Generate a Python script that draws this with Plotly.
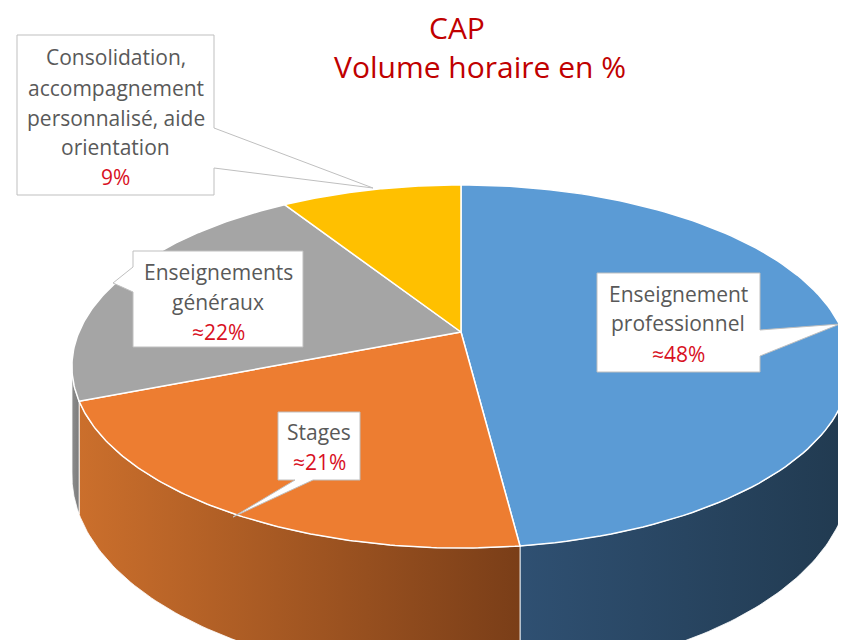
import numpy as np
import plotly.graph_objects as go

# ---- data ----
categories = ["Enseignement professionnel", "Stages", "Enseignements généraux",
              "Consolidation, accompagnement personnalisé, aide orientation"]
values = [48, 21, 22, 9]
value_labels = ["≈48%", "≈21%", "≈22%", "9%"]
top_colors = ["#5b9bd5", "#ed7d31", "#a5a5a5", "#ffc000"]
side_colors = [("#2f5072", "#213a50"), ("#cb6f2c", "#7a3e18"),
               ("#8c8c8c", "#7c7c7c"), ("#c99800", "#b08400")]

# ---- 3D pie projection (screen-pixel-like axis units) ----
cx, cy, R, A, k, D = 461.0, 332.0, 382.0, 175.0, 0.19, 105.0


def proj(theta):
    u = np.sin(theta)
    w = -np.cos(theta)
    s = 1.0 / (1.0 - k * w)
    return cx + R * u * s, cy + A * w * s, s


total = float(sum(values))
bounds = np.concatenate([[0.0], np.cumsum(values) / total]) * 2 * np.pi

fig = go.Figure()

# sides (front half only)
vis_lo, vis_hi = np.radians(100), np.radians(260)
for i in range(len(values)):
    a0, a1 = max(bounds[i], vis_lo), min(bounds[i + 1], vis_hi)
    if a1 <= a0:
        continue
    th = np.linspace(a0, a1, 80)
    x, y, s = proj(th)
    xb, yb = x[::-1], (y + D * s)[::-1]
    xs = np.concatenate([x, xb, [x[0]]])
    ys = np.concatenate([y, yb, [y[0]]])
    fig.add_trace(go.Scatter(
        x=xs, y=ys, mode="lines", fill="toself",
        fillgradient=dict(type="horizontal",
                          colorscale=[[0, side_colors[i][0]], [1, side_colors[i][1]]]),
        line=dict(color="rgba(255,255,255,0.8)", width=1),
        hoverinfo="skip", showlegend=False))

# top faces
for i in range(len(values)):
    th = np.linspace(bounds[i], bounds[i + 1], 120)
    x, y, _ = proj(th)
    xs = np.concatenate([[cx], x, [cx]])
    ys = np.concatenate([[cy], y, [cy]])
    fig.add_trace(go.Scatter(
        x=xs, y=ys, mode="lines", fill="toself", fillcolor=top_colors[i],
        line=dict(color="white", width=1.5),
        name=categories[i], text=f"{categories[i]}: {values[i]}%",
        hoverinfo="text", showlegend=False))

# ---- callouts ----
callouts = [
    "M17,35 L214,35 L214,128 L373,188 L214,168 L214,195 L17,195 Z",
    "M133,251 L303,251 L303,347 L133,347 L133,292 L113,283 L133,267 Z",
    "M597,273 L760,273 L760,330 L840,324 L760,356 L760,372 L597,372 Z",
    "M278,412 L360,412 L360,480 L313,480 L233,517 L295,480 L278,480 Z",
]
for p in callouts:
    fig.add_shape(type="path", path=p, xref="x", yref="y",
                  fillcolor="white", line=dict(color="#bfbfbf", width=1), layer="above")

grey = "#595959"
red = "#d8101e"
fnt = "Open Sans, Roboto, sans-serif"
label_lines = [
    (115.5, [("Consolidation,", 57), ("accompagnement", 88), ("personnalisé, aide", 118),
             ("orientation", 147)], (value_labels[3], 177)),
    (218, [("Enseignements", 272), ("généraux", 302)], (value_labels[2], 332)),
    (678, [("Enseignement", 294), ("professionnel", 323)], (value_labels[0], 354)),
    (319, [("Stages", 432)], (value_labels[1], 462)),
]
for xc, lines, (pct, py) in label_lines:
    for t, yy in lines:
        fig.add_annotation(x=xc, y=yy, text=t, showarrow=False, xref="x", yref="y",
                           xanchor="center", yanchor="middle",
                           font=dict(family=fnt, size=21, color=grey))
    fig.add_annotation(x=xc, y=py, text=pct, showarrow=False, xref="x", yref="y",
                       xanchor="center", yanchor="middle",
                       font=dict(family=fnt, size=21, color=red))

# title
title_red = "#c00000"
fig.add_annotation(x=457, y=27, text="CAP", showarrow=False, xref="x", yref="y",
                   xanchor="center", yanchor="middle",
                   font=dict(family=fnt, size=30, color=title_red))
fig.add_annotation(x=480, y=66, text="Volume horaire en %", showarrow=False, xref="x", yref="y",
                   xanchor="center", yanchor="middle",
                   font=dict(family=fnt, size=30, color=title_red))

# the page adds an 8px body margin, so the axis ranges are offset to compensate
fig.update_layout(
    width=846, height=640,
    margin=dict(l=0, r=0, t=0, b=0),
    paper_bgcolor="white", plot_bgcolor="white",
    xaxis=dict(range=[8, 854], visible=False, fixedrange=True),
    yaxis=dict(range=[648, 8], visible=False, fixedrange=True),
    showlegend=False,
)

fig.write_html("out.html")
